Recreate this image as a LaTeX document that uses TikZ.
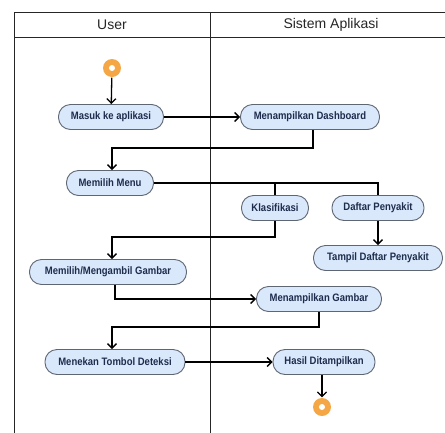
\documentclass[tikz,border=0pt]{standalone}
\usepackage{fontspec}
\setmainfont{Liberation Sans}
\newfontfamily\actfont{Liberation Sans}[FakeStretch=0.88]
\usetikzlibrary{arrows.meta,positioning}

\definecolor{actfill}{HTML}{DAE8FC}
\definecolor{actdraw}{HTML}{5E6673}
\definecolor{acttext}{HTML}{1F2D4D}
\definecolor{dotcol}{HTML}{F4A744}

\begin{document}
\begin{tikzpicture}[x=1pt,y=-1pt,->,>={Straight Barb[length=4.5pt,width=9pt]},
    line width=1.3pt,
    act/.style={draw=actdraw,fill=actfill,text=acttext,font=\actfont\fontsize{10.8}{12}\selectfont\bfseries,
        rounded corners=12pt,minimum height=25pt,inner xsep=2pt,line width=0.9pt},
    dot/.style={circle,fill=dotcol,draw=none,minimum size=18pt,inner sep=0pt},
    lane/.style={-,line width=1pt,draw=black!85},
    head/.style={font=\fontsize{14}{16}\selectfont,text=black!85}]

    \useasboundingbox (0,0) rectangle (445,432);

    % swimlanes
    \draw[lane] (446,12) -- (14,12) -- (14,433);
    \draw[lane] (14,37) -- (446,37);
    \draw[lane] (210,12) -- (210,433);
    \node[head] (user) at (112,25) {User};
    \node[head] (sistem) at (331,25) {Sistem Aplikasi};

    % activities
    \node[dot] (start) at (112,68) {};
    \fill[white] (start) circle (3pt);
    \node[act,minimum width=105pt] (masuk) at (111,117) {Masuk ke aplikasi};
    \node[act,minimum width=139pt] (dash) at (310,117) {Menampilkan Dashboard};
    \node[act,minimum width=87pt] (menu) at (110,183) {Memilih Menu};
    \node[act,minimum width=67pt] (klas) at (275,208) {Klasifikasi};
    \node[act,minimum width=92pt] (daftar) at (378,208) {Daftar Penyakit};
    \node[act,minimum width=129pt] (tampil) at (378,258) {Tampil Daftar Penyakit};
    \node[act,minimum width=157pt] (ambil) at (108,272) {Memilih/Mengambil Gambar};
    \node[act,minimum width=125pt] (gambar) at (319,299) {Menampilkan Gambar};
    \node[act,minimum width=140pt] (tekan) at (115,362) {Menekan Tombol Deteksi};
    \node[act,minimum width=102pt] (hasil) at (324,362) {Hasil Ditampilkan};
    \node[dot] (end) at (322,407) {};
    \fill[white] (end) circle (3pt);

    % flows
    \draw (start) -- (masuk);
    \draw (masuk) -- (dash);
    \draw (dash.south) ++(3,0) coordinate (d1) -- (d1 |- 0,148) -| (menu.north -| 112,0);
    \draw[-] (menu) -| (klas);
    \draw[-] (menu) -| (daftar);
    \draw (klas) |- (112,237) -- (ambil.north -| 112,0);
    \draw (daftar) -- (daftar |- tampil.north);
    \draw (ambil.south -| 115,0) |- (gambar);
    \draw (gambar) |- (112,327) -- (tekan.north -| 112,0);
    \draw (tekan) -- (hasil);
    \draw (hasil.south -| end) -- (end);
\end{tikzpicture}
\end{document}
